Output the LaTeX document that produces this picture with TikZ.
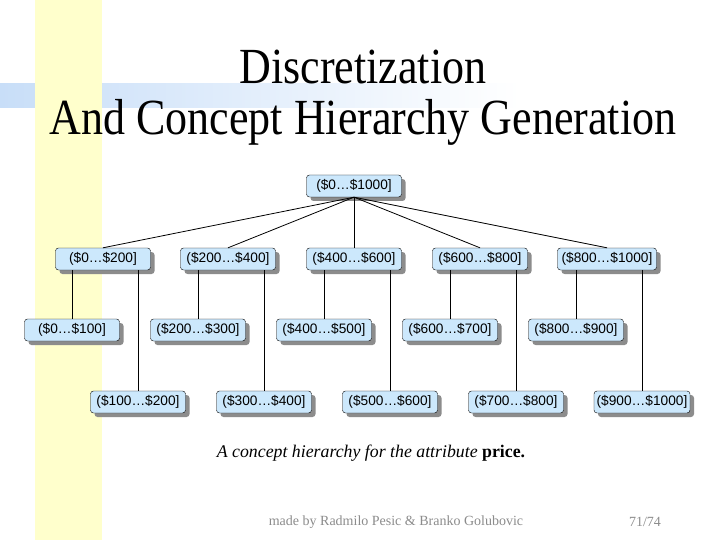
\documentclass[tikz,border=0pt]{standalone}
\usepackage{fontspec}
\usepackage{graphicx}
\setmainfont{Liberation Serif}
\newfontfamily\nodefont{Liberation Sans}
\usetikzlibrary{shadows}
\definecolor{nodefill}{RGB}{204,232,252}
\definecolor{band}{RGB}{255,255,204}
\definecolor{strip}{RGB}{200,222,248}
\begin{document}
\begin{tikzpicture}[x=1pt,y=-1pt,
  box/.style={draw=black,fill=nodefill,minimum width=95pt,minimum height=22pt,inner sep=0pt,
    rounded corners=3pt,font=\nodefont\fontsize{13.7}{15}\selectfont,
    drop shadow={shadow xshift=4pt,shadow yshift=-4pt,fill=black!45,opacity=1}},
  edge/.style={draw=black,line width=0.8pt},
  ttl/.style={font=\fontsize{44}{48}\selectfont,anchor=base,inner sep=0pt}]
\useasboundingbox (0,0) rectangle (720,540);
\fill[white] (0,0) rectangle (720,540);
\fill[left color=strip,right color=white] (0,84) rectangle (520,108);
\fill[band] (35,0) rectangle (102,540);
\node[ttl] (t1) at (363,84) {\scalebox{1}[1.15]{Discretization}};
\node[ttl] (t2) at (363,135) {\scalebox{1}[1.15]{And Concept Hierarchy Generation}};
\node[box] (r) at (354,186) {(\$0…\$1000]};
\node[box] (a1) at (103,259) {(\$0…\$200]};
\node[box] (a2) at (228,259) {(\$200…\$400]};
\node[box] (a3) at (354,259) {(\$400…\$600]};
\node[box] (a4) at (480,259) {(\$600…\$800]};
\node[box,minimum width=99pt] (a5) at (607,259) {(\$800…\$1000]};
\node[box] (b1) at (72,330) {(\$0…\$100]};
\node[box] (b2) at (198,330) {(\$200…\$300]};
\node[box] (b3) at (324,330) {(\$400…\$500]};
\node[box] (b4) at (450,330) {(\$600…\$700]};
\node[box] (b5) at (576,330) {(\$800…\$900]};
\node[box] (c1) at (138,402) {(\$100…\$200]};
\node[box] (c2) at (264,402) {(\$300…\$400]};
\node[box] (c3) at (390,402) {(\$500…\$600]};
\node[box] (c4) at (516,402) {(\$700…\$800]};
\node[box,minimum width=96pt] (c5) at (642,402) {(\$900…\$1000]};
\foreach \n in {a1,a2,a3,a4,a5} \draw[edge] (r.south) -- (\n.north);
\foreach \p/\b/\c in {a1/b1/c1,a2/b2/c2,a3/b3/c3,a4/b4/c4,a5/b5/c5}{
  \draw[edge] (\b.north) -- (\b.north |- \p.south);
  \draw[edge] (\c.north) -- (\c.north |- \p.south);
}
\node[font=\fontsize{17.8}{20}\selectfont] (cap) at (371,453) {\textit{A concept hierarchy for the attribute} \textbf{price.}};
\node[font=\fontsize{14}{16}\selectfont,text=black!45] (foot) at (396,522) {made by Radmilo Pesic \& Branko Golubovic};
\node[font=\fontsize{14}{16}\selectfont,text=black!45] (page) at (645,522) {71/74};
\end{tikzpicture}
\end{document}
